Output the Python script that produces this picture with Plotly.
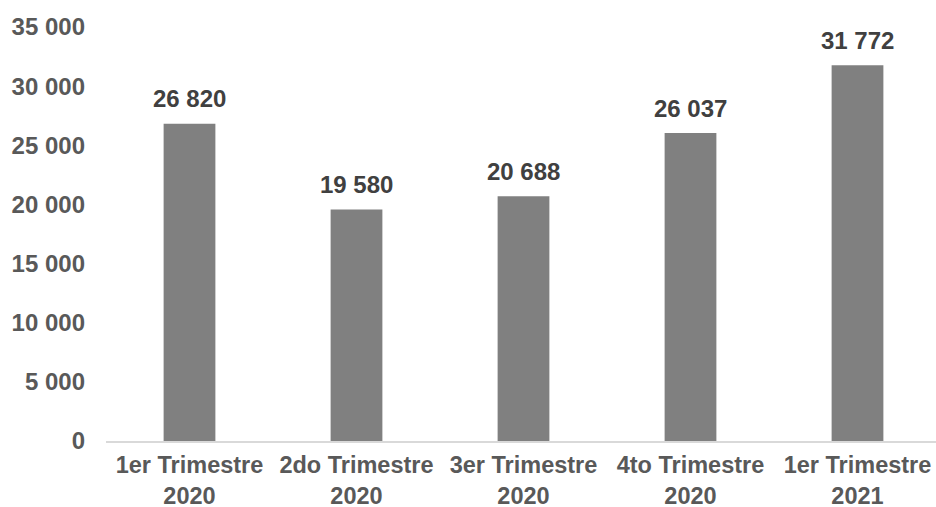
import plotly.graph_objects as go

categories = ["1er Trimestre<br>2020", "2do Trimestre<br>2020", "3er Trimestre<br>2020",
              "4to Trimestre<br>2020", "1er Trimestre<br>2021"]
values = [26820, 19580, 20688, 26037, 31772]
tick_vals = [0, 5000, 10000, 15000, 20000, 25000, 30000, 35000]
tick_text = ["0", "5 000", "10 000", "15 000", "20 000", "25 000", "30 000", "35 000"]
value_labels = ["26 820", "19 580", "20 688", "26 037", "31 772"]

FONT = "Liberation Sans, Arial, sans-serif"
FS = 24

fig = go.Figure()
fig.add_trace(go.Bar(
    x=categories, y=values, width=0.31,
    marker=dict(color="#808080", line=dict(width=0)),
    hoverinfo="skip",
))

for c, v, t in zip(categories, values, value_labels):
    fig.add_annotation(x=c, y=v, text="<b>%s</b>" % t, showarrow=False,
                       yanchor="middle", yshift=25,
                       font=dict(family=FONT, size=FS, color="#404040"))

fig.update_layout(
    width=936, height=507,
    margin=dict(l=106, r=0, t=27, b=66, autoexpand=False),
    paper_bgcolor="white", plot_bgcolor="white",
    showlegend=False,
    font=dict(family=FONT, size=FS, color="#595959"),
    xaxis=dict(
        type="category", range=[-0.5, 4.47],
        showline=True, linecolor="#d9d9d9", linewidth=2,
        showgrid=False, zeroline=False, ticks="",
        ticklabelstandoff=2, automargin=False,
        tickfont=dict(family=FONT, size=23.5, color="#595959", weight="bold"),
        fixedrange=True,
    ),
    yaxis=dict(
        range=[0, 35000], tickvals=tick_vals, ticktext=tick_text,
        showgrid=False, zeroline=False, showline=False, ticks="",
        ticklabelstandoff=20, automargin=False,
        tickfont=dict(family=FONT, size=FS, color="#595959", weight="bold"),
        fixedrange=True,
    ),
)

fig.write_html(
    "out.html",
    config={"displayModeBar": False},
    post_script="document.body.style.margin='0';document.body.style.overflow='hidden';",
)
